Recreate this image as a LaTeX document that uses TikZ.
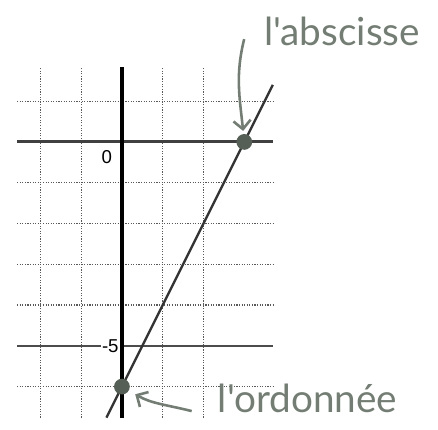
\documentclass[tikz,border=0pt]{standalone}
\usepackage{fontspec}
\setmainfont{Liberation Sans}
\newfontfamily\mano{Lato}
\usepackage{tikz}
\usetikzlibrary{arrows.meta,positioning,calc}
\definecolor{matita}{RGB}{115,125,115}
\definecolor{punto}{RGB}{85,95,85}

\begin{document}
\begin{tikzpicture}[
   >={Straight Barb[length=6pt,width=12pt]}, font=\small,
   griglia/.style={black!65,line width=0.8pt,densely dotted},
   asse/.style={line width=2.6pt},
   pt/.style={circle,fill=punto,inner sep=0pt,minimum size=11pt},
   nota/.style={font=\mano\fontsize{27}{30}\selectfont,text=matita,inner sep=1pt},
   freccia/.style={->,draw=matita,line width=1.8pt},
   num/.style={font=\fontsize{13}{14}\selectfont,inner sep=1pt}]
  \useasboundingbox (-2.99,-7.06) rectangle (7.75,3.48);
  \foreach \x in {-2,-1,1,2}
    \draw[griglia] (\x,-6.76) -- (\x,1.84);
  \foreach \y in {1,-1,-2,-3,-4,-6}
    \draw[griglia] (-2.57,\y) -- (3.7,\y);
  \draw[black!70,line width=1.3pt] (-2.57,-5) -- (3.7,-5);
  \draw[black!75,line width=2.1pt] (-2.57,0) -- (3.7,0);
  \draw[asse] (0,-6.76) -- (0,1.84);
  \node[num,anchor=north east] (o) at (-0.2,-0.17) {0};
  \node[num,fill=white,anchor=east] (m5) at (-0.04,-5) {-5};
  \draw[line width=1.7pt,black!80] (-0.38,-6.76) -- (3.7,1.4);
  \node[pt] (px) at (3,0) {};
  \node[pt] (py) at (0,-6) {};
  \node[nota] (absc) at (5.4,2.72) {l'abscisse};
  \node[nota] (ordo) at (4.55,-6.3) {l'ordonnée};
  \draw[freccia,shorten >=2pt] ($(absc.west)+(-0.45,-0.2)$) to[out=-104,in=96] (px);
  \draw[freccia,shorten >=5pt] ($(ordo.west)+(-0.6,-0.3)$) to[out=166,in=-30] (py);
\end{tikzpicture}
\end{document}
